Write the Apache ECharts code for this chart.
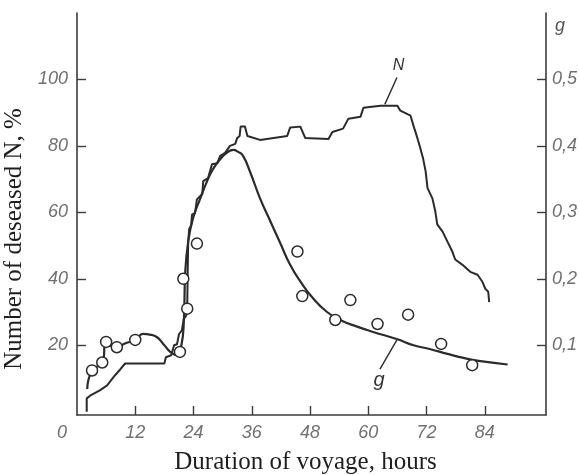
<!DOCTYPE html>
<html>
<head>
<meta charset="utf-8">
<script src="https://cdn.jsdelivr.net/npm/echarts@6/dist/echarts.min.js"></script>
<style>
  html, body { margin: 0; padding: 0; background: #fff; }
  #chart { width: 579px; height: 475px; }
</style>
</head>
<body>
<div id="chart"></div>
<script>
// Tick positions
var hourTicks = [0, 12, 24, 36, 48, 60, 72, 84];
var percentTicks = [20, 40, 60, 80, 100];
var gTicks = [0.1, 0.2, 0.3, 0.4, 0.5];

// N: number of diseased, % (stepped record)
var nHours = [2, 2, 2.7, 4.7, 6.2, 7.8, 8.9, 9.9, 18, 18.3, 19.4, 20, 20.6, 21, 21.6, 22, 22.5, 22.7,
  22.8, 22.9, 23.1, 23.5, 23.7, 24.3, 24.7, 25.8, 26, 27, 27.8, 28.9, 29.5, 30.5, 31.5, 32.6, 33,
  33.5, 33.7, 34.6, 35.1, 37.7, 43.3, 43.9, 46, 47, 51.8, 52.6, 54.8, 55.9, 58.4, 59, 62.5, 66,
  66.6, 68.7, 69.3, 70.1, 70.7, 71.3, 71.8, 72.2, 73.2, 73.8, 74.2, 75.3, 76.3, 77.3, 77.9, 79.4,
  81, 82.5, 83.5, 84.1, 84.7, 84.9];
var nPercent = [0, 4, 4.8, 6.4, 7.9, 10.9, 12.7, 14.5, 14.5, 16.4, 17, 20, 20.3, 23.3, 24.5, 27.9, 29, 31,
  42, 51, 55, 56, 59.4, 59.7, 63.9, 65.5, 69.4, 70.3, 74.5, 74.8, 77, 77.9, 80, 80.6, 82.4,
  83, 85.8, 85.8, 83, 81.8, 83, 85.5, 85.8, 82.4, 82.1, 84.2, 85.2, 88.2, 88.8, 91.5, 92.1, 92.1,
  90.6, 89.1, 86.1, 82.4, 79.4, 76.1, 72.4, 67.3, 64.2, 60.3, 56.4, 54.2, 51.2, 48.2, 45.8, 44.2,
  42.1, 41.2, 39.1, 37, 36.1, 33];

// g: fitted curve
var gHours = [2.1, 3.1, 5.2, 6.0, 8.2, 10, 12, 13.6, 15, 16.5, 18, 19.2, 20.6, 21.5, 22, 22.3, 22.9,
  23.9, 25.4, 26.8, 28, 29.5, 30.9, 32.2, 33.2, 34.2, 35.7, 37.7, 39.8, 41.9, 43.9, 46, 48.7,
  51.5, 54.2, 57.7, 61, 66, 69.3, 72.8, 76.3, 79.6, 83.1, 88.7];
var gValues = [0.034, 0.062, 0.074, 0.1, 0.098, 0.103, 0.108, 0.117, 0.116, 0.112, 0.1, 0.09, 0.085, 0.1,
  0.135, 0.21, 0.256, 0.291, 0.321, 0.347, 0.365, 0.38, 0.39, 0.394, 0.391, 0.385, 0.36, 0.321,
  0.287, 0.253, 0.221, 0.196, 0.17, 0.15, 0.138, 0.128, 0.12, 0.109, 0.1, 0.094, 0.087, 0.081,
  0.076, 0.071];

// g: observed points
var obsHours = [3.1, 5.2, 6.0, 8.2, 12.0, 21.2, 21.9, 22.7, 24.7, 45.4, 46.4, 53.2, 56.3, 61.9, 68.2, 75.0, 81.4];
var obsValues = [0.062, 0.074, 0.105, 0.097, 0.108, 0.09, 0.2, 0.155, 0.253, 0.241, 0.174, 0.138, 0.168, 0.132, 0.146, 0.102, 0.07];

function zip(a, b) {
  var out = [];
  for (var i = 0; i < a.length; i++) out.push([a[i], b[i]]);
  return out;
}

var ink = '#2b2b2b';
var axisInk = '#3c3c3c';
var labelInk = '#707070';
var tickFont = { fontFamily: '"Liberation Sans", sans-serif', fontStyle: 'italic', fontSize: 18, color: labelInk };
var titleFont = { fontFamily: '"Liberation Serif", serif', fontSize: 25, color: '#1e1e1e' };

var chart = echarts.init(document.getElementById('chart'), null, { renderer: 'canvas' });

chart.setOption({
  animation: false,
  backgroundColor: '#ffffff',
  grid: { left: 77, right: 33, top: 13, bottom: 60, containLabel: false, outerBoundsMode: 'none' },
  xAxis: {
    type: 'value',
    min: 0,
    max: 96.6,
    splitLine: { show: false },
    axisLine: { onZero: false, lineStyle: { color: axisInk, width: 1.6 } },
    axisTick: { inside: true, length: 9, customValues: hourTicks.slice(1), lineStyle: { color: axisInk, width: 1.4 } },
    axisLabel: Object.assign({}, tickFont, {
      margin: 9,
      customValues: hourTicks,
      formatter: function (v) { return v === 0 ? '{z|0}' : String(v); },
      rich: { z: Object.assign({}, tickFont, { padding: [0, 30, 0, 0] }) }
    }),
    name: 'Duration of voyage, hours',
    nameLocation: 'middle',
    nameGap: 35,
    nameTextStyle: Object.assign({}, titleFont, { padding: [0, 12, 0, 0] })
  },
  yAxis: [
    {
      type: 'value',
      position: 'left',
      min: -1,
      max: 120,
      splitLine: { show: false },
      axisLine: { show: true, lineStyle: { color: axisInk, width: 1.6 } },
      axisTick: { inside: true, length: 9, customValues: percentTicks, lineStyle: { color: axisInk, width: 1.4 } },
      axisLabel: Object.assign({}, tickFont, { margin: 9, customValues: percentTicks }),
      name: 'Number of deseased N, %',
      nameLocation: 'middle',
      nameRotate: 90,
      nameGap: 46,
      nameTextStyle: Object.assign({}, titleFont, { padding: [0, 50, 0, 0] })
    },
    {
      type: 'value',
      position: 'right',
      min: -0.005,
      max: 0.6,
      splitLine: { show: false },
      axisLine: { show: true, lineStyle: { color: axisInk, width: 1.6 } },
      axisTick: { inside: true, length: 9, customValues: gTicks, lineStyle: { color: axisInk, width: 1.4 } },
      axisLabel: Object.assign({}, tickFont, {
        margin: 6,
        customValues: gTicks,
        formatter: function (v) { return v.toFixed(1).replace('.', ','); }
      }),
      name: 'g',
      nameLocation: 'end',
      nameGap: -22,
      nameTextStyle: Object.assign({}, tickFont, { align: 'left', padding: [0, 0, 0, 9], color: '#555' })
    }
  ],
  series: [
    {
      name: 'N',
      type: 'line',
      yAxisIndex: 0,
      data: zip(nHours, nPercent),
      showSymbol: false,
      symbol: 'none',
      lineStyle: { color: ink, width: 2 },
      markLine: {
        silent: true,
        symbol: 'none',
        lineStyle: { color: ink, width: 1.4, type: 'solid' },
        label: { show: true, position: 'end', formatter: 'N', fontFamily: '"Liberation Sans", sans-serif', fontStyle: 'italic', fontSize: 16, color: '#333', distance: 4 },
        data: [[{ coord: [63.4, 92.5] }, { coord: [65.9, 100.6] }]]
      }
    },
    {
      name: 'g',
      type: 'line',
      yAxisIndex: 1,
      data: zip(gHours, gValues),
      smooth: 0.5,
      showSymbol: false,
      symbol: 'none',
      lineStyle: { color: ink, width: 2.2 },
      markLine: {
        silent: true,
        symbol: 'none',
        lineStyle: { color: ink, width: 1.4, type: 'solid' },
        label: { show: true, position: 'end', formatter: 'g', fontFamily: '"Liberation Sans", sans-serif', fontStyle: 'italic', fontSize: 20, color: '#333', distance: 2 },
        data: [[{ coord: [65.9, 0.108] }, { coord: [62.4, 0.064] }]]
      }
    },
    {
      name: 'g observed',
      type: 'scatter',
      yAxisIndex: 1,
      data: zip(obsHours, obsValues),
      symbol: 'circle',
      symbolSize: 11,
      itemStyle: { color: '#ffffff', opacity: 1, borderColor: ink, borderWidth: 1.5 },
      z: 3
    }
  ]
});
</script>
</body>
</html>
